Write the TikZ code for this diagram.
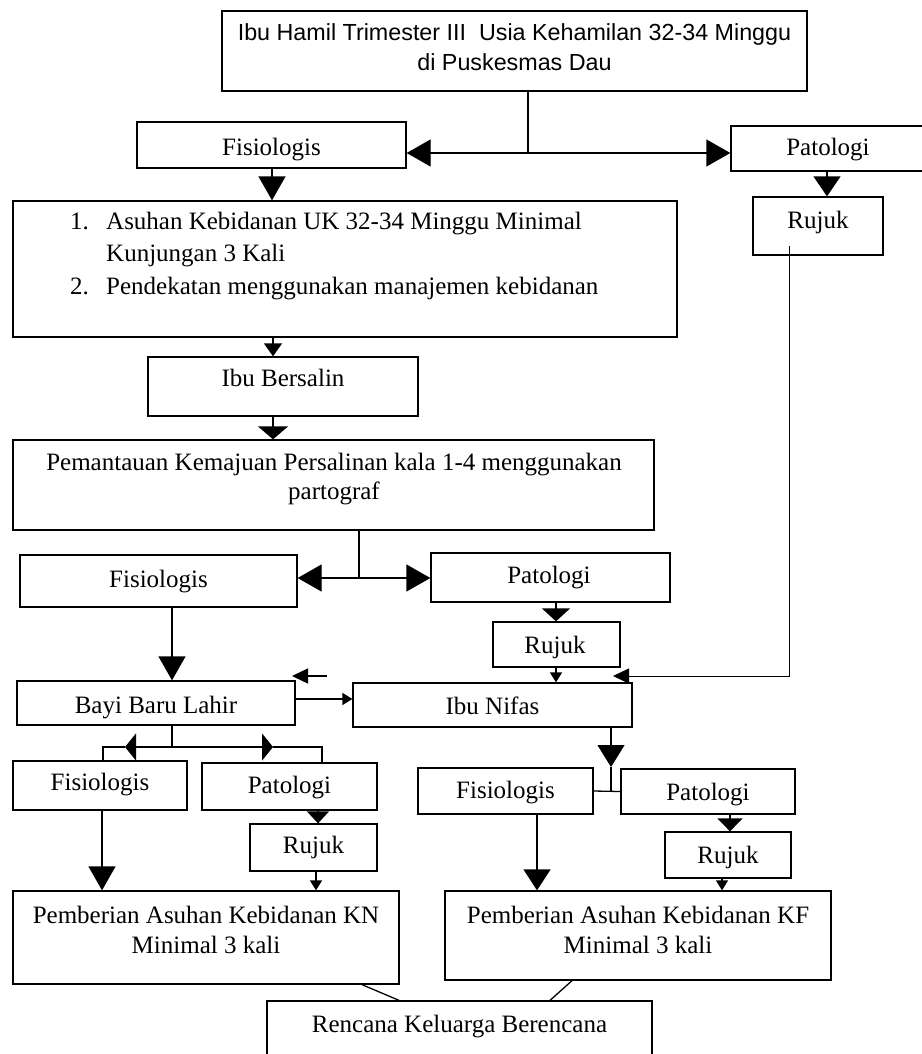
\documentclass[tikz,border=0pt]{standalone}
\usepackage{fontspec}
\setmainfont{Liberation Serif}
\newfontfamily\arialf{Liberation Sans}
\usetikzlibrary{arrows.meta,fit,calc}
\newcommand\mlines[1]{\begin{tabular}[t]{@{}c@{}}#1\end{tabular}}
\begin{document}
\begin{tikzpicture}[x=1pt,y=-1pt,
  bx/.style={draw,line width=1.3pt,inner sep=0pt,rectangle},
  txt/.style={inner sep=0pt,anchor=base,font=\fontsize{25pt}{30pt}\selectfont},
  ln/.style={line width=1.3pt},
  bigA/.style={ln,-{Triangle[length=24pt,width=27pt]}},
  flatA/.style={ln,-{Triangle[length=13pt,width=25pt]}},
  smallA/.style={ln,-{Triangle[length=10pt,width=12pt]}},
  midA/.style={ln,-{Triangle[length=16pt,width=15pt]}},
  tallA/.style={ln,-{Triangle[length=11pt,width=27pt]}}]
\useasboundingbox (0,0) rectangle (921,1054);
% boxes
\node[bx,fit={(222,11) (807,91)}] (top) {};
\node[bx,fit={(137,122) (406,168)}] (fis1) {};
\node[bx,fit={(731,126) (940,171)}] (pat1) {};
\node[bx,fit={(753,197) (883,255)}] (rujuk1) {};
\node[bx,fit={(13,201) (677,337)}] (asuhan) {};
\node[bx,fit={(148,357) (418,416)}] (bersalin) {};
\node[bx,fit={(13,440) (654,530)}] (pemantauan) {};
\node[bx,fit={(20,555) (297,607)}] (fis2) {};
\node[bx,fit={(431,553) (670,602)}] (pat2) {};
\node[bx,fit={(493,622) (620,667)}] (rujuk2) {};
\node[bx,fit={(17,681) (295,725)}] (bayi) {};
\node[bx,fit={(353,683) (632,727)}] (nifas) {};
\node[bx,fit={(13,761) (187,810)}] (fis3) {};
\node[bx,fit={(202,763) (377,810)}] (pat3) {};
\node[bx,fit={(250,824) (377,871)}] (rujuk3) {};
\node[bx,fit={(13,891) (399,984)}] (kn) {};
\node[bx,fit={(418,768) (593,814)}] (fis4) {};
\node[bx,fit={(621,769) (795,814)}] (pat4) {};
\node[bx,fit={(665,832) (791,878)}] (rujuk4) {};
\node[bx,fit={(445,891) (831,980)}] (kf) {};
\node[bx,fit={(267,1001) (652,1080)}] (ren) {};
% texts
\node[txt,font=\arialf\fontsize{23.3pt}{30pt}\selectfont] (ttop) at (514.5,41) {\mlines{Ibu Hamil Trimester III\ \ Usia Kehamilan 32-34 Minggu\\di Puskesmas Dau}};
\node[txt] (tfis1) at (271.5,155) {Fisiologis};
\node[txt] (tpat1) at (828,155) {Patologi};
\node[txt] (trujuk1) at (818,228) {Rujuk};
\node[txt,anchor=base west,font=\fontsize{25pt}{32.5pt}\selectfont] (tasuhan) at (70,229) {\begin{tabular}[t]{@{}l@{}l@{}}\makebox[36pt][l]{1.}&Asuhan Kebidanan UK 32-34 Minggu Minimal\\&Kunjungan 3 Kali\\\makebox[36pt][l]{2.}&Pendekatan menggunakan manajemen kebidanan\end{tabular}};
\node[txt] (tbersalin) at (283,386) {Ibu Bersalin};
\node[txt,font=\fontsize{25pt}{29pt}\selectfont] (tpemantauan) at (334,470) {\mlines{Pemantauan Kemajuan Persalinan kala 1-4 menggunakan\\partograf}};
\node[txt] (tfis2) at (158.5,587) {Fisiologis};
\node[txt] (tpat2) at (549,583) {Patologi};
\node[txt] (trujuk2) at (555,653) {Rujuk};
\node[txt] (tbayi) at (156,713) {Bayi Baru Lahir};
\node[txt] (tnifas) at (492.5,714) {Ibu Nifas};
\node[txt] (tfis3) at (100,790) {Fisiologis};
\node[txt] (tpat3) at (289.5,793) {Patologi};
\node[txt] (trujuk3) at (313.5,853) {Rujuk};
\node[txt] (tkn) at (206,923) {\mlines{Pemberian Asuhan Kebidanan KN\\Minimal 3 kali}};
\node[txt] (tfis4) at (505.5,798) {Fisiologis};
\node[txt] (tpat4) at (708,800) {Patologi};
\node[txt] (trujuk4) at (728,863) {Rujuk};
\node[txt] (tkf) at (638,923) {\mlines{Pemberian Asuhan Kebidanan KF\\Minimal 3 kali}};
\node[txt] (tren) at (459.5,1032) {Rencana Keluarga Berencana};
% connectors: top split
\coordinate (j1) at (528,153);
\draw[ln] (528,0 |- top.south) -- (j1);
\draw[bigA] (j1) -- (j1 -| fis1.east);
\draw[bigA] (j1) -- (j1 -| pat1.west);
\draw[bigA] (272,0 |- fis1.south) -- (272,0 |- asuhan.north);
\draw[ln,-{Triangle[length=20pt,width=27pt]}] (827,0 |- pat1.south) -- (827,0 |- rujuk1.north);
\coordinate (r1tip) at (613,676);
\draw[line width=1pt,-{Triangle[length=16pt,width=15pt]}] ($(789,0 |- rujuk1.south)+(0,-10)$) |- (r1tip);
\draw[ln,-{Triangle[length=13pt,width=18pt]}] (273,0 |- asuhan.south) -- (273,0 |- bersalin.north);
\draw[ln,-{Triangle[length=13pt,width=30pt]}] (273,0 |- bersalin.south) -- (273,0 |- pemantauan.north);
% pemantauan split
\coordinate (j2) at (359,578);
\draw[ln] (359,0 |- pemantauan.south) -- (j2);
\draw[bigA] (j2) -- (j2 -| fis2.east);
\draw[bigA] (j2) -- (j2 -| pat2.west);
\draw[ln,-{Triangle[length=13pt,width=28pt]}] (556,0 |- pat2.south) -- (556,0 |- rujuk2.north);
\draw[smallA] (556,0 |- rujuk2.south) -- (556,0 |- nifas.north);
\draw[bigA] (172,0 |- fis2.south) -- (172,0 |- bayi.north);
\coordinate (s1a) at (327,676);
\coordinate (s1b) at (292,676);
\draw[midA] (s1a) -- (s1b);
\draw[smallA] (bayi.east |- 0,699) -- (nifas.west |- 0,699);
% bayi split
\coordinate (b1) at (172,747);
\coordinate (bl) at (125,747);
\coordinate (br) at (273,747);
\draw[tallA] (172,0 |- bayi.south) |- (bl);
\draw[ln] (bl) -| (103,0 |- fis3.north);
\draw[tallA] (b1) -- (br);
\draw[ln] (br) -| (322,0 |- pat3.north);
\draw[ln,-{Triangle[length=12pt,width=22pt]}] (318,0 |- pat3.south) -- (318,0 |- rujuk3.north);
\draw[smallA] (316,0 |- rujuk3.south) -- (316,0 |- kn.north);
\draw[bigA] (102,0 |- fis3.south) -- (102,0 |- kn.north);
% nifas split
\coordinate (n1) at (611,767);
\coordinate (n2) at (611,791);
\draw[ln,-{Triangle[length=22pt,width=27pt]}] (611,0 |- nifas.south) -- (n1);
\draw[ln] (n1) -- (n2);
\draw[ln] (fis4.east) -- (pat4.west);
\draw[flatA] (730,0 |- pat4.south) -- (730,0 |- rujuk4.north);
\draw[smallA] (722,0 |- rujuk4.south) -- (722,0 |- kf.north);
\draw[ln,-{Triangle[length=21pt,width=27pt]}] (537,0 |- fis4.south) -- (537,0 |- kf.north);
% to rencana
\draw[ln] (362,0 |- kn.south) -- (399,0 |- ren.north);
\draw[ln] (572,0 |- kf.south) -- (550,0 |- ren.north);
\end{tikzpicture}
\end{document}
